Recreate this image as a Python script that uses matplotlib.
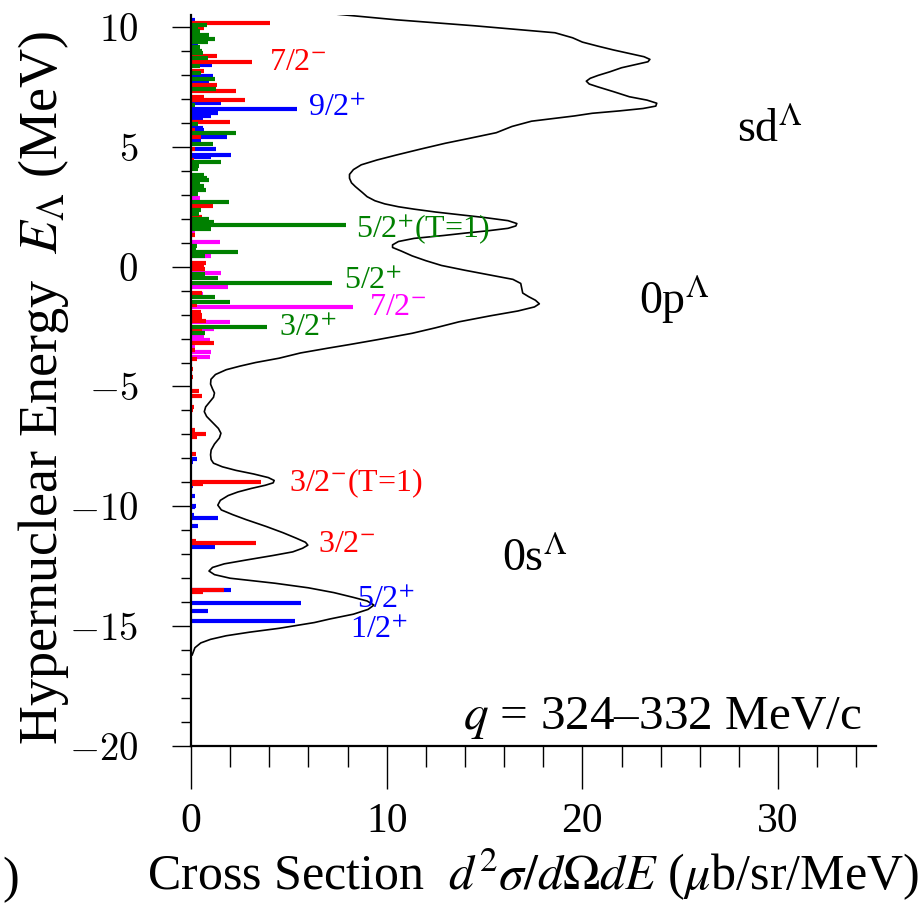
import numpy as np
import matplotlib.pyplot as plt

plt.rcParams['font.family'] = ['Liberation Serif', 'DejaVu Serif']
plt.rcParams['mathtext.fontset'] = 'stix'

# black spectrum curve: energy (MeV) and cross section
curve_E = [10.53, 10.30, 10.05, 9.76, 9.55, 9.37, 9.20, 9.04, 8.88, 8.76, 8.65, 8.55,
           8.45, 8.30, 8.13, 7.98, 7.86, 7.74, 7.62, 7.50, 7.30, 7.09, 6.95, 6.82,
           6.70, 6.60, 6.50, 6.40, 6.29, 6.15, 6.07, 5.85, 5.59, 5.35, 5.15, 4.90,
           4.66, 4.45, 4.25, 4.05, 3.85, 3.69, 3.50, 3.34, 3.10, 2.92, 2.75, 2.62,
           2.50, 2.40, 2.28, 2.16, 2.05, 1.92, 1.80, 1.70, 1.60, 1.50, 1.40, 1.30,
           1.18, 1.05, 0.91, 0.80, 0.65, 0.45, 0.25, 0.05, -0.15, -0.35, -0.53,
           -0.70, -0.90, -1.10, -1.25, -1.40, -1.55, -1.68, -1.85, -2.05, -2.30,
           -2.55, -2.78, -3.05, -3.25, -3.40, -3.60, -3.82, -4.00, -4.15, -4.30,
           -4.50, -4.70, -4.90, -5.10, -5.27, -5.45, -5.65, -5.85, -6.05, -6.25,
           -6.50, -6.75, -6.95, -7.15, -7.40, -7.65, -7.85, -8.05, -8.20, -8.35,
           -8.50, -8.65, -8.80, -8.92, -9.02, -9.12, -9.25, -9.40, -9.55, -9.75,
           -9.95, -10.15, -10.35, -10.55, -10.84, -11.10, -11.33, -11.50, -11.62,
           -11.75, -11.90, -12.05, -12.24, -12.40, -12.55, -12.70, -12.85, -13.00,
           -13.21, -13.40, -13.60, -13.80, -13.95, -14.12, -14.30, -14.50, -14.70,
           -14.85, -15.09, -15.25, -15.40, -15.55, -15.70, -15.90, -16.20]
curve_x = [7.5, 10.5, 14.5, 18.6, 19.5, 20.0, 20.8, 21.6, 22.5, 23.15, 23.45, 23.35,
           22.8, 22.0, 21.4, 20.8, 20.4, 20.2, 20.35, 20.8, 21.6, 22.4, 23.3, 23.8,
           23.75, 23.1, 21.9, 20.5, 19.6, 18.2, 17.4, 16.4, 15.6, 14.2, 13.0, 11.7,
           10.5, 9.5, 8.7, 8.3, 8.1, 8.1, 8.2, 8.4, 8.75, 9.0, 9.4, 9.9,
           10.6, 11.4, 12.5, 13.8, 15.0, 16.2, 16.65, 16.6, 16.2, 15.2, 14.0, 12.9,
           11.4, 10.6, 10.3, 10.3, 10.75, 11.3, 12.0, 12.8, 14.0, 15.3, 16.45,
           16.85, 16.9, 16.95, 17.25, 17.6, 17.8, 17.55, 16.7, 15.3, 13.7,
           12.5, 11.3, 9.5, 8.1, 7.0, 5.6, 4.5, 3.3, 2.5, 1.8,
           1.25, 1.02, 1.0, 1.1, 1.2, 1.15, 0.95, 0.75, 0.68, 0.8,
           1.1, 1.4, 1.53, 1.45, 1.2, 1.03, 1.0, 1.03, 1.15, 1.6,
           2.3, 3.2, 3.95, 4.25, 4.2, 3.8, 3.1, 2.4, 1.9, 1.5,
           1.37, 1.55, 2.14, 2.8, 3.84, 4.7, 5.38, 5.85, 5.97,
           5.7, 5.2, 4.2, 2.82, 1.7, 1.1, 0.92, 1.2, 2.0,
           4.3, 6.0, 7.3, 8.3, 9.0, 9.35, 9.05, 8.3, 7.1,
           6.3, 4.5, 3.0, 1.8, 1.0, 0.5, 0.2, 0.06]

# individual states (energy, strength) by colour
red_E = [10.18, 9.94, 8.80, 8.55, 8.16, 7.58, 7.33, 7.09, 6.95, 6.02, 5.70, 5.42,
         4.91, 4.45, 2.54, 2.07, 1.32, 0.17, 0.03, -0.10, -1.09, -1.62, -1.89,
         -2.03, -2.15, -2.27, -2.70, -3.20, -3.48, -3.86, -4.25, -4.60, -5.20,
         -5.40, -5.85, -6.00, -6.81, -7.00, -7.10, -7.80, -9.00, -9.07, -11.45,
         -11.54, -13.49, -13.57]
red_w = [4.06, 0.69, 1.34, 3.13, 0.69, 1.34, 2.31, 0.69, 2.77, 1.97, 0.2, 0.5,
         0.2, 0.15, 1.14, 0.55, 0.2, 0.79, 0.68, 0.72, 0.56, 0.3, 0.5,
         0.55, 0.55, 0.75, 0.55, 1.2, 0.2, 0.3, 0.12, 0.1, 0.4,
         0.55, 0.15, 0.1, 0.2, 0.78, 0.3, 0.25, 3.6, 0.6, 0.25,
         3.33, 1.68, 0.6]

green_E = [10.08, 10.0, 9.85, 9.68, 9.49, 9.39, 9.15, 9.01, 8.9, 8.72, 8.36, 8.10,
           7.82, 7.40, 6.75, 5.94, 5.56, 5.10, 4.35, 4.22, 4.08, 3.82, 3.70, 3.62,
           3.48, 3.37, 3.20, 3.05, 2.71, 2.37, 2.19, 1.98, 1.86, 1.72, 1.58, 0.85,
           0.70, 0.60, 0.45, -0.31, -0.49, -0.70, -1.28, -1.46, -2.51, -2.78]
green_w = [0.82, 0.35, 0.45, 0.9, 1.23, 0.85, 0.48, 0.55, 0.6, 0.86, 0.45, 0.5,
           1.23, 1.29, 0.2, 0.38, 2.28, 1.11, 1.54, 0.4, 0.35, 0.65, 0.8, 0.94,
           0.45, 0.65, 0.78, 0.35, 1.93, 0.51, 0.4, 0.94, 1.2, 7.9, 1.02, 0.3,
           0.25, 2.39, 0.73, 0.72, 1.37, 7.2, 1.25, 1.97, 3.9, 0.72]

blue_E = [10.3, 9.28, 8.41, 7.95, 7.72, 7.05, 6.82, 6.57, 6.48, 6.40, 6.30, 6.22,
          5.77, 5.70, 5.42, 5.28, 4.91, 4.66, 4.56, -8.03, -8.15, -9.15, -9.55,
          -9.98, -10.03, -10.38, -10.50, -10.80, -11.71, -13.49, -14.04, -14.37,
          -14.78]
blue_w = [0.2, 0.38, 1.08, 1.15, 0.94, 0.35, 1.54, 5.4, 1.3, 1.4, 1.0, 0.6,
          0.6, 0.64, 1.83, 0.5, 1.29, 2.02, 1.0, 0.33, 0.1, 0.1, 0.2,
          0.25, 0.2, 0.15, 1.37, 0.35, 1.25, 2.02, 5.6, 0.86,
          5.3]

magenta_E = [2.88, 1.40, 1.04, 0.45, -0.25, -0.86, -1.15, -1.70, -2.30, -2.58,
             -2.90, -3.06, -3.35, -3.55, -3.75]
magenta_w = [0.48, 0.2, 1.46, 1.0, 1.54, 1.88, 0.6, 8.3, 1.97, 1.2,
             0.65, 0.99, 0.2, 1.0, 0.95]

yticks = [10, 5, 0, -5, -10, -15, -20]
xticks = [0, 10, 20, 30]

green = '#008000'

fig = plt.figure(figsize=(9.24, 9.05), dpi=100)
ax = fig.add_axes([0.2067, 0.1757, 0.948 - 0.2067, 0.9834 - 0.1757])

bar_lw = 3
ax.hlines(magenta_E, 0, magenta_w, colors='magenta', lw=bar_lw)
ax.hlines(blue_E, 0, blue_w, colors='blue', lw=bar_lw)
ax.hlines(red_E, 0, red_w, colors='red', lw=bar_lw)
ax.hlines(green_E, 0, green_w, colors=green, lw=bar_lw)
ax.plot(curve_x, curve_E, color='black', lw=1.2)

ax.set_xlim(0, 35)
ax.set_ylim(-20, 10.5)
for s in ['top', 'right']:
    ax.spines[s].set_visible(False)
for s in ['left', 'bottom']:
    ax.spines[s].set_linewidth(1.6)

ax.set_xticks(xticks)
ax.set_xticks(np.arange(2, 35, 2), minor=True)
ax.set_yticks(yticks)
ax.set_yticks(np.arange(-19, 11, 1), minor=True)
ax.set_yticklabels([f'${t}$' for t in yticks])
for lbl in ax.get_yticklabels():
    lbl.set_math_fontfamily('cm')

ax.tick_params(axis='x', which='major', direction='out', length=31, width=1, labelsize=30, pad=10)
ax.tick_params(axis='x', which='minor', direction='out', length=15, width=1)
ax.tick_params(axis='y', which='major', direction='out', length=14, width=1, labelsize=28, pad=24)
ax.tick_params(axis='y', which='minor', direction='out', length=7, width=1)

ax.set_xlabel(r'Cross Section  $d^2\sigma/d\Omega dE$ ($\mu$b/sr/MeV)', fontsize=36, labelpad=4)
ax.set_ylabel(r'Hypernuclear Energy  $E_\Lambda$ (MeV)', fontsize=39, labelpad=2)
ax.yaxis.set_label_coords(-0.175, 0.49)

fs = 23
ax.text(4.0, 8.5, r'7/2$^{-}$', color='red', fontsize=fs, va='center')
ax.text(6.0, 6.6, r'9/2$^{+}$', color='blue', fontsize=fs, va='center')
ax.text(8.45, 1.55, r'5/2$^{+}$(T=1)', color=green, fontsize=fs, va='center')
ax.text(7.8, -0.6, r'5/2$^{+}$', color=green, fontsize=fs, va='center')
ax.text(9.1, -1.7, r'7/2$^{-}$', color='magenta', fontsize=fs, va='center')
ax.text(4.5, -2.6, r'3/2$^{+}$', color=green, fontsize=fs, va='center')
ax.text(5.0, -9.05, r'3/2$^{-}$(T=1)', color='red', fontsize=fs, va='center')
ax.text(6.5, -11.6, r'3/2$^{-}$', color='red', fontsize=fs, va='center')
ax.text(8.5, -13.95, r'5/2$^{+}$', color='blue', fontsize=fs, va='center')
ax.text(8.1, -15.2, r'1/2$^{+}$', color='blue', fontsize=fs, va='center')

ax.text(27.9, 5.7, r'sd$^{\Lambda}$', fontsize=33, va='center')
ax.text(22.9, -1.4, r'0p$^{\Lambda}$', fontsize=33, va='center')
ax.text(15.9, -12.2, r'0s$^{\Lambda}$', fontsize=33, va='center')
ax.text(34.3, -18.85, r'$q$ = 324–332 MeV/c', fontsize=35.5, va='center', ha='right')

fig.text(0.003, 0.014, ')', fontsize=36)

fig.savefig('out.png', dpi=100)
